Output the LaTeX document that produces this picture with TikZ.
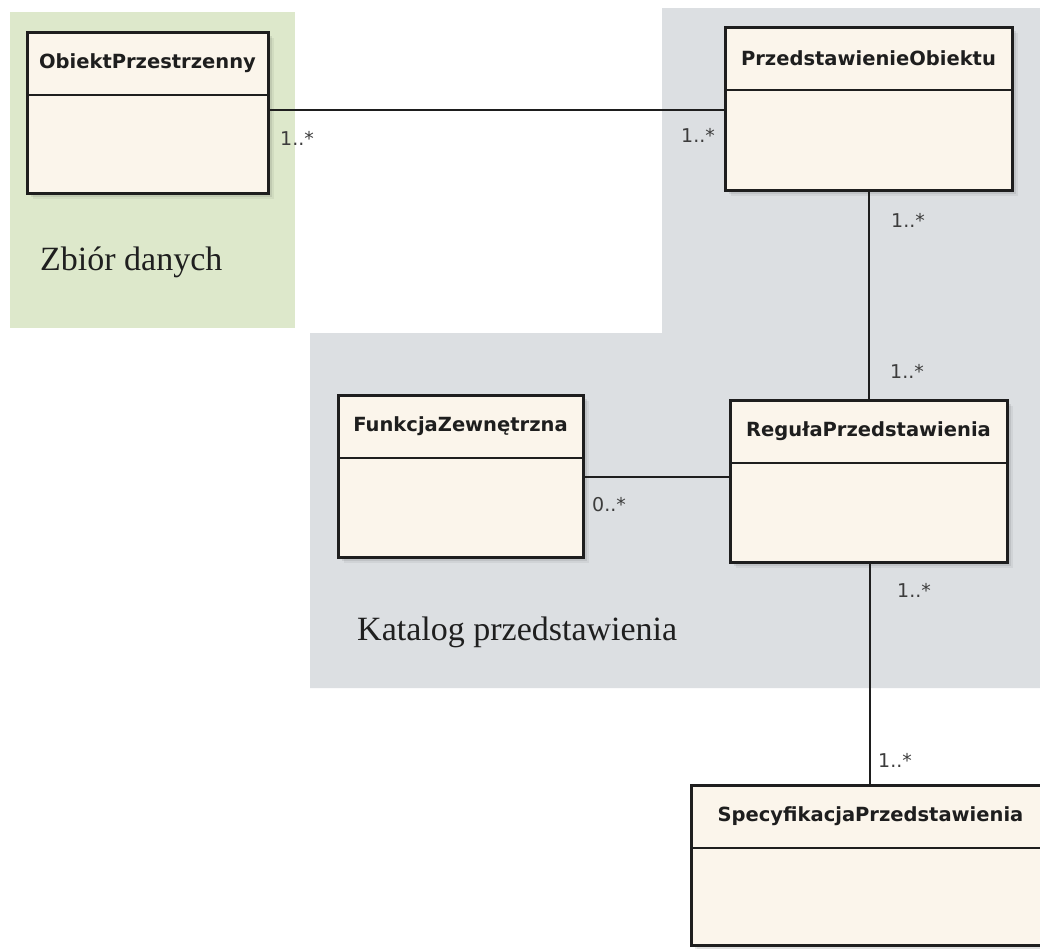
\documentclass[tikz,border=0pt]{standalone}
\usepackage{fontspec}
\setmainfont{Liberation Serif}
\setsansfont{DejaVu Sans}
\usetikzlibrary{fit}

\definecolor{catalogbg}{RGB}{220,223,226}
\definecolor{datasetbg}{RGB}{221,232,203}
\definecolor{classfill}{RGB}{251,245,235}
\definecolor{classline}{RGB}{30,30,30}
\definecolor{multcol}{RGB}{60,60,60}

\tikzset{
  classbox/.style={draw=classline, line width=3pt, fill=classfill, inner sep=0pt},
  classtitle/.style={font=\sffamily\bfseries\fontsize{19.5}{22}\selectfont, text=classline, inner sep=0pt},
  assoc/.style={draw=classline, line width=2.5pt},
  mult/.style={font=\sffamily\fontsize{19}{21}\selectfont, text=multcol, inner sep=0pt},
  pkglabel/.style={font=\rmfamily\fontsize{34}{40}\selectfont, text=black!88, inner sep=0pt, anchor=base west},
}

% UML class: name, x1, y1, x2, y2, y of the divider, title
\newcommand\umlclass[7]{%
  \foreach \s/\o in {2/0.10,4/0.08,6/0.05}{
    \fill[black, opacity=\o] (#2+\s,#3+\s) rectangle (#4+\s,#5+\s);
  }
  \node[classbox, fit={(#2,#3) (#4,#5)}] (#1) {};
  \draw[draw=classline, line width=2.6pt] (#2,#6) -- (#4,#6);
  \node[classtitle] (#1-title) at ({(#2+#4)/2},{(#3+#6)/2}) {#7};
}

\begin{document}
\begin{tikzpicture}[x=1pt, y=-1pt]
  \clip (0,0) rectangle (1040,948);
  \fill[white] (0,0) rectangle (1040,948);

  % package areas
  \fill[datasetbg] (10,12) rectangle (295,328);
  \fill[catalogbg] (662,8) -- (1040,8) -- (1040,688) -- (310,688)
                   -- (310,333) -- (662,333) -- cycle;

  % classes
  \umlclass{obj}{27}{32}{268}{193}{95}{ObiektPrzestrzenny}
  \umlclass{przed}{725}{27}{1012}{190}{90}{PrzedstawienieObiektu}
  \umlclass{funk}{338}{395}{583}{557}{458}{FunkcjaZewnętrzna}
  \umlclass{regula}{730}{400}{1007}{562}{463}{RegułaPrzedstawienia}
  \umlclass{spec}{691}{785}{1050}{945}{848}{SpecyfikacjaPrzedstawienia}

  % associations
  \draw[assoc] (obj.east |- 0,110) -- (przed.west |- 0,110);
  \draw[assoc] (przed.south -| 869,0) -- (regula.north -| 869,0);
  \draw[assoc] (funk.east |- 0,477) -- (regula.west |- 0,477);
  \draw[assoc] (regula.south -| 870,0) -- (spec.north -| 870,0);

  % multiplicities
  \node[mult] (m1) at (297,138) {1..*};
  \node[mult] (m2) at (698,135) {1..*};
  \node[mult] (m3) at (908,220) {1..*};
  \node[mult] (m4) at (907,371) {1..*};
  \node[mult] (m5) at (609,505) {0..*};
  \node[mult] (m6) at (914,590) {1..*};
  \node[mult] (m7) at (895,760) {1..*};

  % package names
  \node[pkglabel] (dataset) at (40,270) {Zbiór danych};
  \node[pkglabel] (catalog) at (357,640) {Katalog przedstawienia};
\end{tikzpicture}
\end{document}
